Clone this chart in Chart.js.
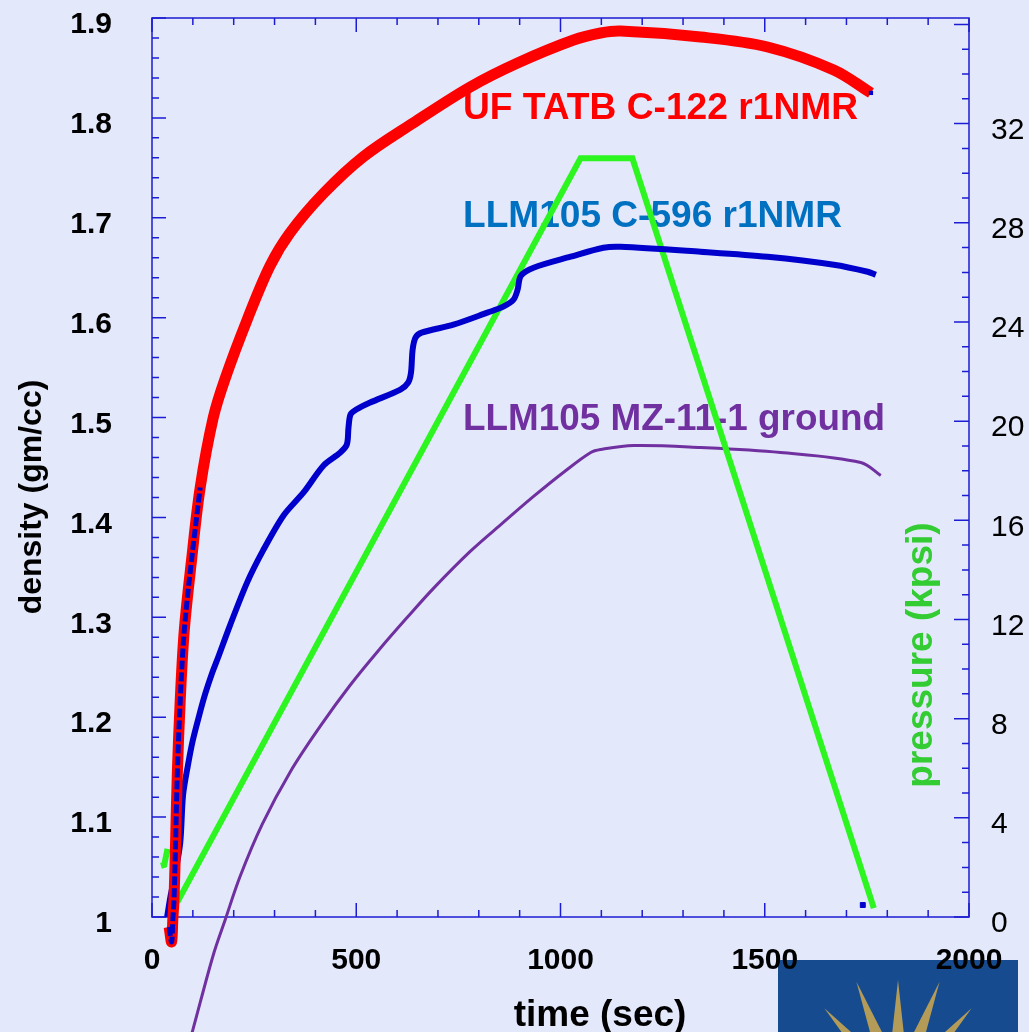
<!DOCTYPE html>
<html>
<head>
<meta charset="utf-8">
<title>Density and pressure vs time</title>
<script src="https://cdn.jsdelivr.net/npm/chart.js@4.4.1/dist/chart.umd.min.js"></script>
<style>
  html, body { margin: 0; padding: 0; background: #e3e8fb; }
  canvas { display: block; }
</style>
</head>
<body>
<canvas id="densityChart" width="1029" height="1032"></canvas>
<script>
// UF TATB C-122 (r1NMR): time in sec, density in gm/cc
const tatbTime = [42, 48, 51, 54, 58, 62, 69, 79, 97, 118, 150, 179, 233, 289, 338, 419, 517, 640, 779, 895, 1032, 1098, 1147, 1343, 1507, 1669, 1760];
const tatbDensity = [0.99, 0.975, 0.998, 1.019, 1.08, 1.144, 1.216, 1.287, 1.358, 1.430, 1.500, 1.539, 1.598, 1.652, 1.685, 1.724, 1.761, 1.795, 1.831, 1.855, 1.878, 1.885, 1.887, 1.881, 1.871, 1.848, 1.825];

// LLM105 C-596 (r1NMR)
const c596Time = [37, 45, 55, 69, 76, 88, 100, 115, 130, 147, 162, 191, 233, 272, 322, 371, 420, 461, 477, 481, 486, 500, 534, 608, 627, 634, 638, 645, 660, 738, 821, 860, 885, 895, 903, 934, 1025, 1105, 1147, 1343, 1507, 1669, 1752, 1772];
const c596Density = [1.0, 1.02, 1.04, 1.074, 1.122, 1.152, 1.177, 1.201, 1.223, 1.244, 1.260, 1.292, 1.335, 1.367, 1.402, 1.425, 1.452, 1.465, 1.473, 1.49, 1.503, 1.508, 1.515, 1.528, 1.535, 1.545, 1.568, 1.580, 1.585, 1.593, 1.605, 1.611, 1.618, 1.628, 1.642, 1.650, 1.661, 1.670, 1.671, 1.666, 1.661, 1.653, 1.646, 1.643];

// stray C-596 reading after unloading
const strayTime = [1740];
const strayDensity = [1.012];

// LLM105 MZ-11-1 ground
const mzTime = [95, 100, 150, 179, 216, 270, 338, 412, 485, 559, 625, 689, 779, 860, 934, 1010, 1074, 1098, 1179, 1343, 1539, 1735, 1784];
const mzDensity = [0.88, 0.887, 0.962, 0.997, 1.041, 1.093, 1.145, 1.191, 1.232, 1.269, 1.300, 1.329, 1.366, 1.395, 1.421, 1.446, 1.465, 1.468, 1.472, 1.470, 1.465, 1.455, 1.442];

// press pressure in kpsi (null splits the first short trace from the ramp)
const pressureTime = [22, 30, 38, 50, 62, 1049, 1176, 1767];
const pressureKpsi = [2.06, 2.1, 2.75, null, 0.6, 30.6, 30.6, 0.36];

// axis ranges and tick steps: [min, max, major, minor]
const timeTicks = [0, 2000, 500, 100];
const densityTicks = [1.0, 1.9, 0.1, 0.02];
const pressureTicks = [0, 36.26, 4, 1];

const FONT = '"Liberation Sans", Arial, Helvetica, sans-serif';
Chart.defaults.font.family = FONT;

function toPoints(xs, ys) {
  return xs.map((x, i) => ({ x: x, y: ys[i] }));
}

const tatbPoints = toPoints(tatbTime, tatbDensity);

// light background plus the logo block in the lower right corner
const backdrop = {
  id: 'backdrop',
  beforeDraw(chart) {
    const ctx = chart.ctx;
    ctx.save();
    ctx.fillStyle = '#e3e8fb';
    ctx.fillRect(0, 0, chart.width, chart.height);

    ctx.fillStyle = '#164c8f';
    ctx.fillRect(778, 960, 240, 80);
    ctx.beginPath();
    ctx.rect(778, 960, 240, 80);
    ctx.clip();
    ctx.fillStyle = '#b49c58';
    const cx = 898, cy = 1090;
    [-63, -42, -21, 0, 21, 42, 63].forEach((deg, i) => {
      const a = deg * Math.PI / 180;
      const r = i % 2 ? 110 : 116;
      const tx = cx + Math.sin(a) * r, ty = cy - Math.cos(a) * r;
      const nx = Math.cos(a) * 12, ny = Math.sin(a) * 12;
      ctx.beginPath();
      ctx.moveTo(tx, ty);
      ctx.lineTo(cx + nx, cy + ny);
      ctx.lineTo(cx - nx, cy - ny);
      ctx.closePath();
      ctx.fill();
    });
    ctx.restore();
  }
};

function fitText(ctx, text, x, y, width, size, color) {
  ctx.font = 'bold ' + size + 'px ' + FONT;
  const w = ctx.measureText(text).width;
  ctx.save();
  ctx.translate(x, y);
  ctx.scale(width / w, 1);
  ctx.fillStyle = color;
  ctx.textAlign = 'left';
  ctx.textBaseline = 'alphabetic';
  ctx.fillText(text, 0, 0);
  ctx.restore();
}

// frame with inward ticks, then the series names
const frameTicks = {
  id: 'frameTicks',
  beforeDatasetsDraw(chart) {
    const { ctx, chartArea: a, scales } = chart;
    ctx.save();
    ctx.strokeStyle = '#1c1cd2';
    ctx.lineWidth = 1.5;
    ctx.strokeRect(a.left, a.top, a.right - a.left, a.bottom - a.top);
    ctx.beginPath();
    const [t0, t1, tMajor, tMinor] = timeTicks;
    for (let t = t0; t <= t1; t += tMinor) {
      const px = scales.x.getPixelForValue(t);
      const len = t % tMajor === 0 ? 14 : 7;
      ctx.moveTo(px, a.bottom); ctx.lineTo(px, a.bottom - len);
      ctx.moveTo(px, a.top); ctx.lineTo(px, a.top + len);
    }
    const [d0, d1, dMajor, dMinor] = densityTicks;
    const nd = Math.round((d1 - d0) / dMinor);
    const every = Math.round(dMajor / dMinor);
    for (let i = 0; i <= nd; i++) {
      const py = scales.y.getPixelForValue(d0 + i * dMinor);
      const len = i % every === 0 ? 14 : 7;
      ctx.moveTo(a.left, py); ctx.lineTo(a.left + len, py);
    }
    const [p0, p1, pMajor, pMinor] = pressureTicks;
    for (let p = p0; p <= p1; p += pMinor) {
      const py = scales.y2.getPixelForValue(p);
      const len = p % pMajor === 0 ? 15 : 7;
      ctx.moveTo(a.right, py); ctx.lineTo(a.right - len, py);
    }
    ctx.stroke();
    ctx.restore();

    fitText(ctx, 'UF TATB C-122 r1NMR', 463, 119, 395, 37, '#ff0000');
    fitText(ctx, 'LLM105 C-596 r1NMR', 463, 227, 379, 37, '#0070c0');
    fitText(ctx, 'LLM105 MZ-11-1 ground', 463, 430, 422, 37, '#7030a0');
  }
};

// axis titles
const axisTitles = {
  id: 'axisTitles',
  afterDraw(chart) {
    const ctx = chart.ctx;
    ctx.save();
    ctx.textAlign = 'center';
    ctx.textBaseline = 'middle';
    ctx.fillStyle = '#000';
    ctx.font = 'bold 37px ' + FONT;
    ctx.fillText('time (sec)', 600, 1016);

    ctx.save();
    ctx.font = 'bold 32px ' + FONT;
    ctx.translate(32, 497);
    ctx.rotate(-Math.PI / 2);
    ctx.fillText('density (gm/cc)', 0, 0);
    ctx.restore();

    ctx.save();
    ctx.font = 'bold 37px ' + FONT;
    ctx.translate(922, 655);
    ctx.rotate(-Math.PI / 2);
    ctx.fillStyle = '#33cc33';
    ctx.fillText('pressure (kpsi)', 0, 0);
    ctx.restore();
    ctx.restore();
  }
};

// keep the plot box fixed: labels may overhang it
function fixBox(size) {
  return function (s) {
    if (s.isHorizontal()) s.height = size; else s.width = size;
    s.paddingTop = 0; s.paddingBottom = 0;
    s.paddingLeft = 0; s.paddingRight = 0;
  };
}

const lastTatb = tatbPoints.length - 1;

new Chart(document.getElementById('densityChart'), {
  type: 'line',
  data: {
    datasets: [
      {
        label: 'UF TATB C-122 r1NMR (early markers)',
        data: tatbPoints.slice(0, 10),
        yAxisID: 'y',
        borderColor: '#0000cc',
        borderWidth: 5,
        borderDash: [9, 3],
        tension: 0.35,
        pointRadius: 0,
        clip: false
      },
      {
        label: 'UF TATB C-122 r1NMR',
        data: tatbPoints,
        yAxisID: 'y',
        borderColor: '#ff0000',
        borderWidth: 11,
        tension: 0.35,
        pointStyle: 'rect',
        pointRadius: tatbPoints.map((p, i) => i === lastTatb ? 3 : 0),
        pointBackgroundColor: '#0000cc',
        pointBorderColor: '#0000cc',
        pointBorderWidth: 0,
        clip: false
      },
      {
        label: 'LLM105 C-596 stray',
        data: toPoints(strayTime, strayDensity),
        yAxisID: 'y',
        showLine: false,
        pointStyle: 'rect',
        pointRadius: 3.5,
        pointBackgroundColor: '#0000cc',
        pointBorderColor: '#0000cc',
        clip: false
      },
      {
        label: 'LLM105 C-596 r1NMR',
        data: toPoints(c596Time, c596Density),
        yAxisID: 'y',
        borderColor: '#0000cc',
        borderWidth: 6,
        tension: 0.3,
        pointRadius: 0,
        clip: false
      },
      {
        label: 'pressure',
        data: toPoints(pressureTime, pressureKpsi),
        yAxisID: 'y2',
        borderColor: '#2cf520',
        borderWidth: 6,
        tension: 0,
        spanGaps: false,
        pointRadius: 0,
        clip: false
      },
      {
        label: 'LLM105 MZ-11-1 ground',
        data: toPoints(mzTime, mzDensity),
        yAxisID: 'y',
        borderColor: '#7030a0',
        borderWidth: 3,
        tension: 0.35,
        pointRadius: 0,
        clip: false
      }
    ]
  },
  options: {
    responsive: false,
    animation: false,
    events: [],
    layout: { padding: { top: 18, left: 0, right: 0, bottom: 0 } },
    plugins: {
      legend: { display: false },
      tooltip: { enabled: false },
      title: { display: false }
    },
    scales: {
      x: {
        type: 'linear',
        position: 'bottom',
        min: timeTicks[0],
        max: timeTicks[1],
        grid: { display: false, drawTicks: false },
        border: { display: false },
        ticks: {
          stepSize: timeTicks[2],
          padding: 26,
          maxRotation: 0,
          color: '#000',
          font: { size: 30, weight: 'bold' },
          callback: v => String(v)
        },
        afterFit: fixBox(115)
      },
      y: {
        type: 'linear',
        position: 'left',
        min: densityTicks[0],
        max: densityTicks[1],
        grid: { display: false, drawTicks: false },
        border: { display: false },
        ticks: {
          stepSize: densityTicks[2],
          padding: 40,
          labelOffset: 7,
          color: '#000',
          font: { size: 30, weight: 'bold' },
          callback: v => String(+v.toFixed(1))
        },
        afterFit: fixBox(152)
      },
      y2: {
        type: 'linear',
        position: 'right',
        min: pressureTicks[0],
        max: pressureTicks[1],
        grid: { display: false, drawTicks: false },
        border: { display: false },
        ticks: {
          stepSize: pressureTicks[2],
          includeBounds: false,
          padding: 22,
          labelOffset: 7,
          color: '#000',
          font: { size: 30 },
          callback: v => v > 32 ? '' : String(v)
        },
        afterFit: fixBox(60)
      }
    }
  },
  plugins: [backdrop, frameTicks, axisTitles]
});
</script>
</body>
</html>
